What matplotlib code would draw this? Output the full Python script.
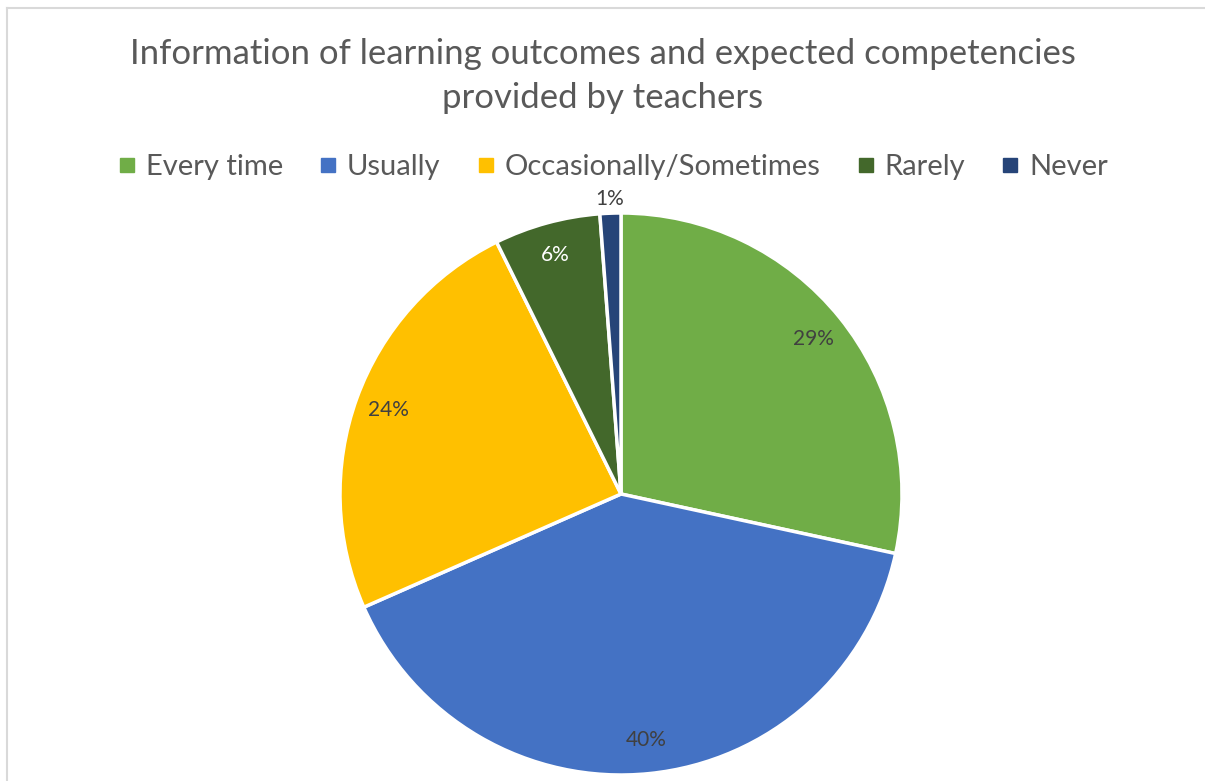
import matplotlib
matplotlib.use('Agg')
from matplotlib import pyplot as plt
from matplotlib.lines import Line2D
import numpy as np

categories = ['Every time', 'Usually', 'Occasionally/Sometimes', 'Rarely', 'Never']
shares = [28.4, 40.0, 24.3, 6.1, 1.2]
labels = ['29%', '40%', '24%', '6%', '1%']
colors = ['#70AD47', '#4472C4', '#FFC000', '#43682B', '#264478']
label_colors = ['#404040', '#404040', '#404040', '#FFFFFF', '#404040']
title = 'Information of learning outcomes and expected competencies\nprovided by teachers'

plt.rcParams['font.family'] = ['Lato', 'DejaVu Sans']

W, H = 1205, 781
fig = plt.figure(figsize=(W / 100, H / 100), dpi=100)

# pie axes: centre (621, 494), radius 281 px
cx, cy, r = 621, 494, 281
ax = fig.add_axes([(cx - r) / W, (H - cy - r) / H, 2 * r / W, 2 * r / H])
wedges, _ = ax.pie(shares, colors=colors, startangle=90, counterclock=False,
                   wedgeprops=dict(edgecolor='white', linewidth=2.5))
ax.set_xlim(-1, 1)
ax.set_ylim(-1, 1)
ax.set_aspect('equal')
ax.axis('off')

# data labels, "best fit" style: inside except the tiny slice
for w, lab, col in zip(wedges, labels, label_colors):
    mid = np.deg2rad((w.theta1 + w.theta2) / 2)
    dist = 1.05 if lab == '1%' else 0.88
    ax.text(dist * np.cos(mid), dist * np.sin(mid), lab, ha='center', va='center',
            fontsize=15, color=col, clip_on=False)

fig.text(0.5, 1 - 76 / H, title, ha='center', va='center', fontsize=25,
         color='#595959', linespacing=1.48)

handles = [Line2D([], [], marker='s', linestyle='none', markersize=10,
                  markerfacecolor=c, markeredgecolor=c) for c in colors]
fig.legend(handles, categories, loc='center', bbox_to_anchor=(0.5075, 1 - 167 / H),
           ncol=5, frameon=False, fontsize=21, labelcolor='#595959',
           handletextpad=0.25, columnspacing=1.15, handlelength=0.8)

# chart area border (only top and left visible in the crop)
fig.add_artist(Line2D([7 / W, 1], [1 - 8 / H, 1 - 8 / H], color='#D9D9D9', lw=1.5))
fig.add_artist(Line2D([7 / W, 7 / W], [0, 1 - 8 / H], color='#D9D9D9', lw=1.5))

fig.savefig('out.png', dpi=100, facecolor='white')
